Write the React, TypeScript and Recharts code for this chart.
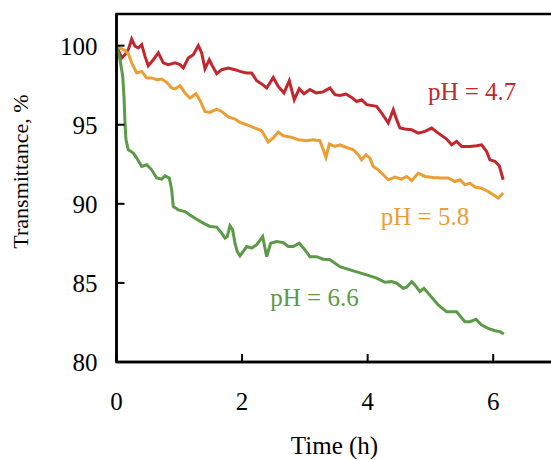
import React from 'react';
import { LineChart, Line, XAxis, YAxis, ReferenceArea, ReferenceDot } from 'recharts';

const xTicks = [0, 2, 4, 6];
const yTicks = [80, 85, 90, 95, 100];

const t47 = [0, 0.083, 0.135, 0.188, 0.242, 0.295, 0.347, 0.401, 0.454, 0.506, 0.586, 0.666, 0.745, 0.825, 0.932, 1.011, 1.064, 1.143, 1.223, 1.303, 1.357, 1.409, 1.478, 1.516, 1.596, 1.675, 1.78, 1.887, 1.967, 2.073, 2.153, 2.232, 2.312, 2.392, 2.497, 2.576, 2.667, 2.752, 2.831, 2.911, 2.986, 3.081, 3.177, 3.283, 3.4, 3.479, 3.559, 3.654, 3.745, 3.825, 3.904, 3.984, 4.143, 4.223, 4.328, 4.408, 4.462, 4.514, 4.594, 4.701, 4.806, 4.912, 5.019, 5.124, 5.258, 5.338, 5.417, 5.497, 5.629, 5.736, 5.815, 5.895, 5.947, 6.027, 6.096, 6.159];
const v47 = [100.0, 99.22, 99.43, 99.75, 100.42, 99.96, 99.85, 100.06, 99.32, 98.73, 99.11, 99.54, 98.91, 98.8, 98.91, 98.8, 98.59, 99.22, 99.43, 100.0, 99.54, 98.53, 99.11, 98.8, 98.23, 98.48, 98.59, 98.48, 98.37, 98.27, 98.27, 97.78, 97.58, 97.32, 97.99, 97.42, 97.01, 97.78, 96.58, 97.28, 96.96, 97.22, 97.01, 97.07, 97.32, 96.9, 96.85, 96.94, 96.73, 96.47, 96.58, 96.27, 96.16, 95.74, 95.11, 95.95, 95.32, 94.79, 94.73, 94.68, 94.47, 94.58, 94.79, 94.47, 94.09, 93.73, 93.94, 93.63, 93.63, 93.67, 93.73, 93.31, 92.78, 92.68, 92.41, 91.52];

const t58 = [0, 0.056, 0.135, 0.188, 0.242, 0.322, 0.401, 0.481, 0.561, 0.64, 0.72, 0.799, 0.879, 0.932, 1.011, 1.091, 1.17, 1.266, 1.33, 1.409, 1.489, 1.596, 1.675, 1.78, 1.887, 1.967, 2.073, 2.178, 2.312, 2.417, 2.497, 2.576, 2.656, 2.79, 2.895, 3.029, 3.134, 3.24, 3.293, 3.336, 3.389, 3.479, 3.559, 3.666, 3.771, 3.85, 3.904, 3.973, 4.037, 4.089, 4.169, 4.248, 4.328, 4.435, 4.541, 4.621, 4.701, 4.806, 4.912, 5.045, 5.178, 5.283, 5.39, 5.47, 5.549, 5.629, 5.709, 5.815, 5.92, 6.0, 6.08, 6.159];
const v58 = [100.0, 99.85, 99.7, 99.49, 98.91, 98.27, 98.37, 97.96, 97.96, 97.85, 97.89, 97.68, 97.32, 97.26, 97.47, 97.01, 96.69, 96.96, 96.54, 95.84, 95.78, 95.99, 95.84, 95.49, 95.36, 95.15, 95.0, 94.83, 94.62, 93.91, 94.16, 94.54, 94.3, 94.2, 94.05, 93.99, 94.05, 93.99, 93.42, 92.93, 93.78, 93.63, 93.73, 93.56, 93.42, 93.1, 92.78, 93.1, 92.89, 92.36, 92.15, 91.84, 91.52, 91.69, 91.56, 91.73, 91.46, 91.94, 91.73, 91.66, 91.63, 91.63, 91.41, 91.52, 91.2, 91.31, 91.06, 90.99, 90.78, 90.57, 90.36, 90.68];

const t66 = [0, 0.056, 0.099, 0.119, 0.135, 0.151, 0.188, 0.268, 0.322, 0.401, 0.481, 0.561, 0.64, 0.72, 0.772, 0.841, 0.879, 0.904, 0.984, 1.091, 1.17, 1.277, 1.382, 1.489, 1.596, 1.675, 1.728, 1.764, 1.807, 1.85, 1.887, 1.924, 1.967, 2.073, 2.153, 2.232, 2.328, 2.392, 2.455, 2.551, 2.656, 2.736, 2.815, 2.911, 3.002, 3.081, 3.188, 3.293, 3.4, 3.559, 3.771, 3.984, 4.143, 4.275, 4.382, 4.462, 4.567, 4.621, 4.701, 4.753, 4.833, 4.896, 4.965, 5.124, 5.258, 5.417, 5.549, 5.629, 5.725, 5.815, 5.92, 6.027, 6.107, 6.17];
const v66 = [100.0, 99.11, 98.06, 96.79, 95.11, 94.05, 93.42, 93.21, 92.89, 92.36, 92.47, 92.15, 91.63, 91.56, 91.77, 91.63, 90.89, 89.83, 89.62, 89.51, 89.3, 89.03, 88.78, 88.57, 88.53, 88.15, 87.83, 87.93, 88.61, 88.35, 87.51, 86.98, 86.71, 87.3, 87.2, 87.41, 87.93, 86.66, 87.51, 87.61, 87.55, 87.3, 87.3, 87.51, 87.09, 86.66, 86.66, 86.5, 86.46, 86.03, 85.76, 85.51, 85.3, 85.04, 85.08, 84.98, 84.66, 84.73, 85.08, 84.87, 84.45, 84.66, 84.35, 83.61, 83.18, 83.18, 82.55, 82.55, 82.7, 82.34, 82.13, 81.98, 81.92, 81.77];

const seriesLabels = ['pH = 4.7', 'pH = 5.8', 'pH = 6.6'];
const labelAnchorsT = [4.96, 4.21, 2.45];
const labelAnchorsV = [96.58, 88.67, 83.51];

const colors = ['#C1272D', '#EB9E34', '#5B9A46'];
const FONT = '"Liberation Serif", "Times New Roman", serif';

const toData = (ts: number[], vs: number[]) => ts.map((t, i) => ({ t, v: vs[i] }));

const d47 = toData(t47, v47);
const d58 = toData(t58, v58);
const d66 = toData(t66, v66);

const makeLabel = (text: string, color: string) => (props: any) => {
  const vb = props.viewBox || {};
  return (
    <text x={vb.x} y={vb.y} fill={color} fontSize={25} fontFamily={FONT} textAnchor="start">
      {text}
    </text>
  );
};

export default function App() {
  return (
    <div style={{ position: 'absolute', left: 0, top: 0, width: 551, height: 460, overflow: 'hidden', background: '#fff' }}>
      <LineChart width={560} height={460} margin={{ top: 14, right: 4, bottom: 0, left: 0 }}>
        <XAxis
          dataKey="t"
          type="number"
          domain={[0, 7]}
          ticks={xTicks}
          allowDataOverflow
          height={98}
          tickSize={-8}
          tickMargin={38}
          axisLine={{ stroke: '#000', strokeWidth: 2.5 }}
          tickLine={{ stroke: '#000', strokeWidth: 2 }}
          tick={{ fill: '#000', fontSize: 25, fontFamily: FONT }}
          label={(p: any) => (
            <text x={334.5} y={454} textAnchor="middle" fill="#000" fontSize={25} fontFamily={FONT}>
              Time (h)
            </text>
          )}
        />
        <YAxis
          type="number"
          domain={[80, 102]}
          ticks={yTicks}
          allowDataOverflow
          width={116.5}
          tickSize={-8}
          tickMargin={27}
          axisLine={{ stroke: '#000', strokeWidth: 2.5 }}
          tickLine={{ stroke: '#000', strokeWidth: 2 }}
          tick={{ fill: '#000', fontSize: 25, fontFamily: FONT }}
          label={(p: any) => (
            <text
              x={28}
              y={171.5}
              textAnchor="middle"
              fill="#000"
              fontSize={22}
              fontFamily={FONT}
              transform="rotate(-90, 28, 171.5)"
            >
              Transmittance, %
            </text>
          )}
        />
        <ReferenceArea x1={0} x2={7} y1={80} y2={102} fill="none" stroke="#000" strokeWidth={2.5} ifOverflow="visible" />
        <Line data={d47} dataKey="v" stroke={colors[0]} strokeWidth={3} dot={false} isAnimationActive={false} type="linear" />
        <Line data={d58} dataKey="v" stroke={colors[1]} strokeWidth={3} dot={false} isAnimationActive={false} type="linear" />
        <Line data={d66} dataKey="v" stroke={colors[2]} strokeWidth={3} dot={false} isAnimationActive={false} type="linear" />
        {seriesLabels.map((s, i) => (
          <ReferenceDot
            key={s}
            x={labelAnchorsT[i]}
            y={labelAnchorsV[i]}
            r={0}
            fill="none"
            stroke="none"
            label={makeLabel(s, colors[i])}
          />
        ))}
      </LineChart>
    </div>
  );
}
